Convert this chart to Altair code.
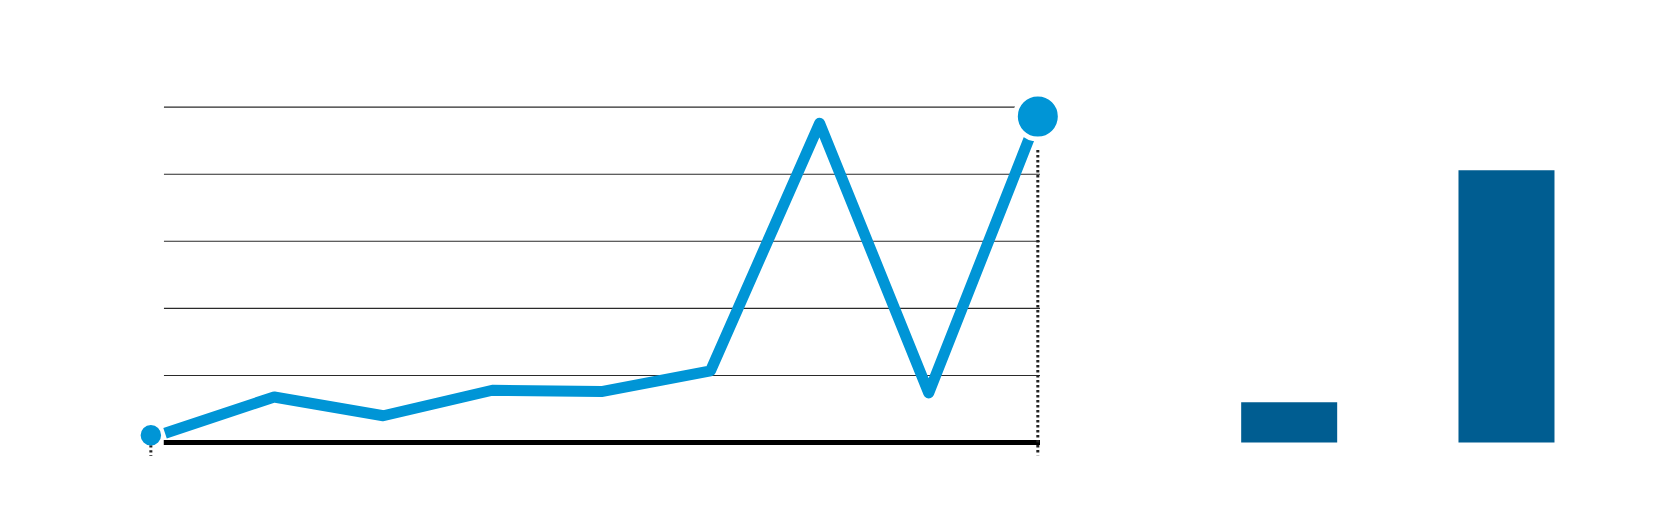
import altair as alt
import pandas as pd

# ---- data ----
line_x = [0, 1, 2, 3, 4, 5, 6, 7, 8]
line_y = [0.14, 0.68, 0.40, 0.78, 0.76, 1.07, 4.76, 0.74, 4.86]
start_x = [-0.13]
start_y = [0.11]
grid_values = [1, 2, 3, 4, 5]
bar_categories = ["A", "B"]
bar_values = [0.60, 4.06]

line_df = pd.DataFrame({"x": line_x, "y": line_y})
end_df = line_df.tail(1)
start_df = pd.DataFrame({"x": start_x, "y": start_y})
grid_df = pd.DataFrame({"g": grid_values})
bar_df = pd.DataFrame({"cat": bar_categories, "v": bar_values})

BLUE = "#0095d6"
DARK = "#005d91"

xs = alt.Scale(domain=[-0.3, 8.25], nice=False, zero=False)
ys = alt.Scale(domain=[-0.5, 5.5], nice=False, zero=False)

grid = alt.Chart(grid_df).mark_rule(color="#2a2a2a", strokeWidth=1.1).encode(
    x=alt.XDatum(-0.01, scale=xs, axis=None),
    x2=alt.X2Datum(8.02),
    y=alt.Y("g:Q", scale=ys, axis=None),
)

baseline = alt.Chart(grid_df).mark_rule(color="black", strokeWidth=5).encode(
    x=alt.XDatum(-0.01, scale=xs, axis=None),
    x2=alt.X2Datum(8.02),
    y=alt.YDatum(0, scale=ys, axis=None),
)

dot_right = alt.Chart(end_df).mark_rule(color="#222222", strokeWidth=3, strokeDash=[2.4, 2.6]).encode(
    x=alt.X("x:Q", scale=xs, axis=None),
    y=alt.YDatum(4.36, scale=ys, axis=None),
    y2=alt.Y2Datum(-0.19),
)

dot_left = alt.Chart(start_df).mark_rule(color="#222222", strokeWidth=3, strokeDash=[2.4, 2.6]).encode(
    x=alt.X("x:Q", scale=xs, axis=None),
    y=alt.Y("y:Q", scale=ys, axis=None),
    y2=alt.Y2Datum(-0.2),
)

line = alt.Chart(line_df).mark_line(
    color=BLUE, strokeWidth=11, strokeJoin="round", strokeCap="butt"
).encode(
    x=alt.X("x:Q", scale=xs, axis=None),
    y=alt.Y("y:Q", scale=ys, axis=None),
)

end_dot = alt.Chart(end_df).mark_circle(
    size=2025, color=BLUE, opacity=1, stroke="white", strokeWidth=5
).encode(
    x=alt.X("x:Q", scale=xs, axis=None),
    y=alt.Y("y:Q", scale=ys, axis=None),
)

start_dot = alt.Chart(start_df).mark_circle(size=420, color=BLUE, opacity=1).encode(
    x=alt.X("x:Q", scale=xs, axis=None),
    y=alt.Y("y:Q", scale=ys, axis=None),
)

left = alt.layer(grid, baseline, dot_right, dot_left, line, end_dot, start_dot).properties(
    width=932.8, height=402.6
)

right = alt.Chart(bar_df).mark_bar(color=DARK).encode(
    x=alt.X("cat:N", sort=None, axis=None,
            scale=alt.Scale(paddingInner=0.5582, paddingOuter=0.3)),
    y=alt.Y("v:Q", scale=ys, axis=None),
).properties(width=443.7, height=402.6)

chart = alt.hconcat(left, right, spacing=104.7).properties(
    padding={"left": 124.3, "top": 65.55, "right": 0, "bottom": 0}
).configure_view(strokeWidth=0)

chart.save("out.html", embed_options={"renderer": "svg", "actions": False})
